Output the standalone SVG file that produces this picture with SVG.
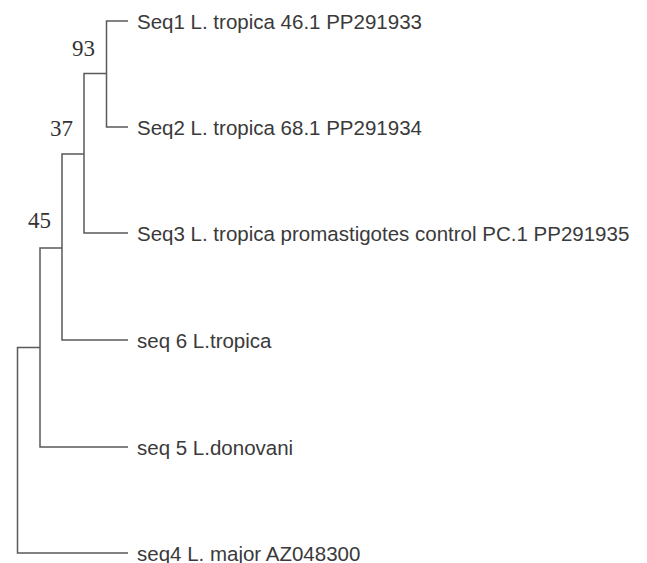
<svg xmlns="http://www.w3.org/2000/svg" width="647" height="563" viewBox="0 0 647 563">
<style>
.br{fill:none;stroke:#5a5a5a;stroke-width:1.5}
.lf{font-family:"Liberation Sans",Arial,sans-serif;font-size:20.5px;fill:#3a3a3a}
.bs{font-family:"Liberation Serif","Times New Roman",serif;font-size:23px;fill:#333}
</style>
<rect width="647" height="563" fill="#fff"/>
<g id="connectors">
<path class="br" d="M128,21H106.5V127H128"/>
<path class="br" d="M106.5,73.5H84V233H128"/>
<path class="br" d="M84,154H62V340H128"/>
<path class="br" d="M62,248H40V447H128"/>
<path class="br" d="M40,347.5H17.5V553H128"/>
</g>
<g id="seq1"><text class="lf" x="137" y="28.5">Seq1 L. tropica 46.1 PP291933</text></g>
<g id="seq2"><text class="lf" x="137" y="134.5">Seq2 L. tropica 68.1 PP291934</text></g>
<g id="seq3"><text class="lf" x="137" y="240.5">Seq3 L. tropica promastigotes control PC.1 PP291935</text></g>
<g id="seq6"><text class="lf" x="137" y="347.5">seq 6 L.tropica</text></g>
<g id="seq5"><text class="lf" x="137" y="454.5">seq 5 L.donovani</text></g>
<g id="seq4"><text class="lf" x="137" y="560.5">seq4 L. major AZ048300</text></g>
<g id="bootstrap93"><text class="bs" x="72" y="55.5">93</text></g>
<g id="bootstrap37"><text class="bs" x="50" y="135.5">37</text></g>
<g id="bootstrap45"><text class="bs" x="28" y="228">45</text></g>
</svg>
